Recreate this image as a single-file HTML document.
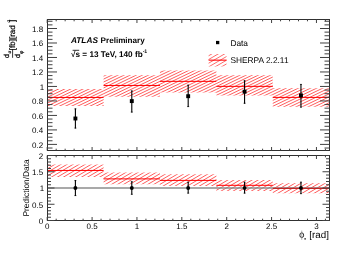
<!DOCTYPE html><html><head><meta charset="utf-8"><style>html,body{margin:0;padding:0;background:#fff;width:357px;height:256px;overflow:hidden}svg{display:block}text{font-family:"Liberation Sans",sans-serif;text-rendering:geometricPrecision}</style></head><body>
<div style="will-change:transform;width:357px;height:256px"><svg width="357" height="256" viewBox="0 0 357 256">
<defs>
<clipPath id="ct"><rect x="47.5" y="19.5" width="282" height="131"/></clipPath>
<clipPath id="cb"><rect x="47.5" y="155.5" width="282" height="65"/></clipPath></defs>
<rect width="357" height="256" fill="#fff"/>
<g clip-path="url(#ct)">
<clipPath id="hc1"><rect x="47.20" y="89.00" width="56.39" height="17.00"/></clipPath><g clip-path="url(#hc1)" stroke="#ff0000" stroke-width="0.7" stroke-opacity="0.92"><line x1="46.20" y1="89.06" x2="104.59" y2="61.04"/><line x1="46.20" y1="91.99" x2="104.59" y2="63.97"/><line x1="46.20" y1="94.92" x2="104.59" y2="66.90"/><line x1="46.20" y1="97.85" x2="104.59" y2="69.83"/><line x1="46.20" y1="100.78" x2="104.59" y2="72.76"/><line x1="46.20" y1="103.71" x2="104.59" y2="75.69"/><line x1="46.20" y1="106.64" x2="104.59" y2="78.62"/><line x1="46.20" y1="109.57" x2="104.59" y2="81.55"/><line x1="46.20" y1="112.50" x2="104.59" y2="84.48"/><line x1="46.20" y1="115.43" x2="104.59" y2="87.41"/><line x1="46.20" y1="118.36" x2="104.59" y2="90.34"/><line x1="46.20" y1="121.29" x2="104.59" y2="93.27"/><line x1="46.20" y1="124.22" x2="104.59" y2="96.20"/><line x1="46.20" y1="127.15" x2="104.59" y2="99.13"/><line x1="46.20" y1="130.08" x2="104.59" y2="102.06"/><line x1="46.20" y1="133.01" x2="104.59" y2="104.99"/><line x1="46.20" y1="135.94" x2="104.59" y2="107.92"/></g>
<clipPath id="hc2"><rect x="103.59" y="75.20" width="56.39" height="21.60"/></clipPath><g clip-path="url(#hc2)" stroke="#ff0000" stroke-width="0.7" stroke-opacity="0.92"><line x1="102.59" y1="73.72" x2="160.98" y2="45.69"/><line x1="102.59" y1="76.65" x2="160.98" y2="48.62"/><line x1="102.59" y1="79.58" x2="160.98" y2="51.55"/><line x1="102.59" y1="82.51" x2="160.98" y2="54.48"/><line x1="102.59" y1="85.44" x2="160.98" y2="57.41"/><line x1="102.59" y1="88.37" x2="160.98" y2="60.34"/><line x1="102.59" y1="91.30" x2="160.98" y2="63.27"/><line x1="102.59" y1="94.23" x2="160.98" y2="66.20"/><line x1="102.59" y1="97.16" x2="160.98" y2="69.13"/><line x1="102.59" y1="100.09" x2="160.98" y2="72.06"/><line x1="102.59" y1="103.02" x2="160.98" y2="74.99"/><line x1="102.59" y1="105.95" x2="160.98" y2="77.92"/><line x1="102.59" y1="108.88" x2="160.98" y2="80.85"/><line x1="102.59" y1="111.81" x2="160.98" y2="83.78"/><line x1="102.59" y1="114.74" x2="160.98" y2="86.71"/><line x1="102.59" y1="117.67" x2="160.98" y2="89.64"/><line x1="102.59" y1="120.60" x2="160.98" y2="92.57"/><line x1="102.59" y1="123.53" x2="160.98" y2="95.50"/><line x1="102.59" y1="126.46" x2="160.98" y2="98.43"/></g>
<clipPath id="hc3"><rect x="159.98" y="70.40" width="56.39" height="22.20"/></clipPath><g clip-path="url(#hc3)" stroke="#ff0000" stroke-width="0.7" stroke-opacity="0.92"><line x1="158.98" y1="70.09" x2="217.37" y2="42.06"/><line x1="158.98" y1="73.02" x2="217.37" y2="44.99"/><line x1="158.98" y1="75.95" x2="217.37" y2="47.92"/><line x1="158.98" y1="78.88" x2="217.37" y2="50.85"/><line x1="158.98" y1="81.81" x2="217.37" y2="53.78"/><line x1="158.98" y1="84.74" x2="217.37" y2="56.71"/><line x1="158.98" y1="87.67" x2="217.37" y2="59.64"/><line x1="158.98" y1="90.60" x2="217.37" y2="62.57"/><line x1="158.98" y1="93.53" x2="217.37" y2="65.50"/><line x1="158.98" y1="96.46" x2="217.37" y2="68.43"/><line x1="158.98" y1="99.39" x2="217.37" y2="71.36"/><line x1="158.98" y1="102.32" x2="217.37" y2="74.29"/><line x1="158.98" y1="105.25" x2="217.37" y2="77.22"/><line x1="158.98" y1="108.18" x2="217.37" y2="80.15"/><line x1="158.98" y1="111.11" x2="217.37" y2="83.08"/><line x1="158.98" y1="114.04" x2="217.37" y2="86.01"/><line x1="158.98" y1="116.97" x2="217.37" y2="88.94"/><line x1="158.98" y1="119.90" x2="217.37" y2="91.87"/><line x1="158.98" y1="122.83" x2="217.37" y2="94.80"/></g>
<clipPath id="hc4"><rect x="216.37" y="75.20" width="56.39" height="20.30"/></clipPath><g clip-path="url(#hc4)" stroke="#ff0000" stroke-width="0.7" stroke-opacity="0.92"><line x1="215.37" y1="75.25" x2="273.77" y2="47.22"/><line x1="215.37" y1="78.18" x2="273.77" y2="50.15"/><line x1="215.37" y1="81.11" x2="273.77" y2="53.08"/><line x1="215.37" y1="84.04" x2="273.77" y2="56.01"/><line x1="215.37" y1="86.97" x2="273.77" y2="58.94"/><line x1="215.37" y1="89.90" x2="273.77" y2="61.87"/><line x1="215.37" y1="92.83" x2="273.77" y2="64.80"/><line x1="215.37" y1="95.76" x2="273.77" y2="67.73"/><line x1="215.37" y1="98.69" x2="273.77" y2="70.66"/><line x1="215.37" y1="101.62" x2="273.77" y2="73.59"/><line x1="215.37" y1="104.55" x2="273.77" y2="76.52"/><line x1="215.37" y1="107.48" x2="273.77" y2="79.45"/><line x1="215.37" y1="110.41" x2="273.77" y2="82.38"/><line x1="215.37" y1="113.34" x2="273.77" y2="85.31"/><line x1="215.37" y1="116.27" x2="273.77" y2="88.24"/><line x1="215.37" y1="119.20" x2="273.77" y2="91.17"/><line x1="215.37" y1="122.13" x2="273.77" y2="94.10"/><line x1="215.37" y1="125.06" x2="273.77" y2="97.03"/></g>
<clipPath id="hc5"><rect x="272.77" y="88.30" width="56.39" height="18.50"/></clipPath><g clip-path="url(#hc5)" stroke="#ff0000" stroke-width="0.7" stroke-opacity="0.92"><line x1="271.77" y1="86.27" x2="330.16" y2="58.24"/><line x1="271.77" y1="89.20" x2="330.16" y2="61.17"/><line x1="271.77" y1="92.13" x2="330.16" y2="64.10"/><line x1="271.77" y1="95.06" x2="330.16" y2="67.03"/><line x1="271.77" y1="97.99" x2="330.16" y2="69.96"/><line x1="271.77" y1="100.92" x2="330.16" y2="72.89"/><line x1="271.77" y1="103.85" x2="330.16" y2="75.82"/><line x1="271.77" y1="106.78" x2="330.16" y2="78.75"/><line x1="271.77" y1="109.71" x2="330.16" y2="81.68"/><line x1="271.77" y1="112.64" x2="330.16" y2="84.61"/><line x1="271.77" y1="115.57" x2="330.16" y2="87.54"/><line x1="271.77" y1="118.50" x2="330.16" y2="90.47"/><line x1="271.77" y1="121.43" x2="330.16" y2="93.40"/><line x1="271.77" y1="124.36" x2="330.16" y2="96.33"/><line x1="271.77" y1="127.29" x2="330.16" y2="99.26"/><line x1="271.77" y1="130.22" x2="330.16" y2="102.19"/><line x1="271.77" y1="133.15" x2="330.16" y2="105.12"/><line x1="271.77" y1="136.08" x2="330.16" y2="108.05"/></g>
<line x1="47.20" y1="97.45" x2="103.59" y2="97.45" stroke="#ff0000" stroke-width="1.0"/>
<line x1="103.59" y1="85.45" x2="159.98" y2="85.45" stroke="#ff0000" stroke-width="1.0"/>
<line x1="159.98" y1="81.35" x2="216.37" y2="81.35" stroke="#ff0000" stroke-width="1.0"/>
<line x1="216.37" y1="86.35" x2="272.77" y2="86.35" stroke="#ff0000" stroke-width="1.0"/>
<line x1="272.77" y1="97.40" x2="329.16" y2="97.40" stroke="#ff0000" stroke-width="1.0"/>
</g>
<g clip-path="url(#cb)">
<clipPath id="hc6"><rect x="47.20" y="164.60" width="56.39" height="12.30"/></clipPath><g clip-path="url(#hc6)" stroke="#ff0000" stroke-width="0.7" stroke-opacity="0.92"><line x1="46.20" y1="162.38" x2="104.59" y2="128.10"/><line x1="46.20" y1="165.93" x2="104.59" y2="131.65"/><line x1="46.20" y1="169.48" x2="104.59" y2="135.20"/><line x1="46.20" y1="173.03" x2="104.59" y2="138.75"/><line x1="46.20" y1="176.58" x2="104.59" y2="142.30"/><line x1="46.20" y1="180.13" x2="104.59" y2="145.85"/><line x1="46.20" y1="183.68" x2="104.59" y2="149.40"/><line x1="46.20" y1="187.23" x2="104.59" y2="152.95"/><line x1="46.20" y1="190.78" x2="104.59" y2="156.50"/><line x1="46.20" y1="194.33" x2="104.59" y2="160.05"/><line x1="46.20" y1="197.88" x2="104.59" y2="163.60"/><line x1="46.20" y1="201.43" x2="104.59" y2="167.15"/><line x1="46.20" y1="204.98" x2="104.59" y2="170.70"/><line x1="46.20" y1="208.53" x2="104.59" y2="174.25"/><line x1="46.20" y1="212.08" x2="104.59" y2="177.80"/></g>
<clipPath id="hc7"><rect x="103.59" y="172.60" width="56.39" height="11.60"/></clipPath><g clip-path="url(#hc7)" stroke="#ff0000" stroke-width="0.7" stroke-opacity="0.92"><line x1="102.59" y1="171.88" x2="160.98" y2="137.60"/><line x1="102.59" y1="175.43" x2="160.98" y2="141.15"/><line x1="102.59" y1="178.98" x2="160.98" y2="144.70"/><line x1="102.59" y1="182.53" x2="160.98" y2="148.25"/><line x1="102.59" y1="186.08" x2="160.98" y2="151.80"/><line x1="102.59" y1="189.63" x2="160.98" y2="155.35"/><line x1="102.59" y1="193.18" x2="160.98" y2="158.90"/><line x1="102.59" y1="196.73" x2="160.98" y2="162.45"/><line x1="102.59" y1="200.28" x2="160.98" y2="166.00"/><line x1="102.59" y1="203.83" x2="160.98" y2="169.55"/><line x1="102.59" y1="207.38" x2="160.98" y2="173.10"/><line x1="102.59" y1="210.93" x2="160.98" y2="176.65"/><line x1="102.59" y1="214.48" x2="160.98" y2="180.20"/><line x1="102.59" y1="218.03" x2="160.98" y2="183.75"/></g>
<clipPath id="hc8"><rect x="159.98" y="174.20" width="56.39" height="11.80"/></clipPath><g clip-path="url(#hc8)" stroke="#ff0000" stroke-width="0.7" stroke-opacity="0.92"><line x1="158.98" y1="174.28" x2="217.37" y2="140.00"/><line x1="158.98" y1="177.83" x2="217.37" y2="143.55"/><line x1="158.98" y1="181.38" x2="217.37" y2="147.10"/><line x1="158.98" y1="184.93" x2="217.37" y2="150.65"/><line x1="158.98" y1="188.48" x2="217.37" y2="154.20"/><line x1="158.98" y1="192.03" x2="217.37" y2="157.75"/><line x1="158.98" y1="195.58" x2="217.37" y2="161.30"/><line x1="158.98" y1="199.13" x2="217.37" y2="164.85"/><line x1="158.98" y1="202.68" x2="217.37" y2="168.40"/><line x1="158.98" y1="206.23" x2="217.37" y2="171.95"/><line x1="158.98" y1="209.78" x2="217.37" y2="175.50"/><line x1="158.98" y1="213.33" x2="217.37" y2="179.05"/><line x1="158.98" y1="216.88" x2="217.37" y2="182.60"/><line x1="158.98" y1="220.43" x2="217.37" y2="186.15"/></g>
<clipPath id="hc9"><rect x="216.37" y="180.10" width="56.39" height="10.90"/></clipPath><g clip-path="url(#hc9)" stroke="#ff0000" stroke-width="0.7" stroke-opacity="0.92"><line x1="215.37" y1="180.23" x2="273.77" y2="145.95"/><line x1="215.37" y1="183.78" x2="273.77" y2="149.50"/><line x1="215.37" y1="187.33" x2="273.77" y2="153.05"/><line x1="215.37" y1="190.88" x2="273.77" y2="156.60"/><line x1="215.37" y1="194.43" x2="273.77" y2="160.15"/><line x1="215.37" y1="197.98" x2="273.77" y2="163.70"/><line x1="215.37" y1="201.53" x2="273.77" y2="167.25"/><line x1="215.37" y1="205.08" x2="273.77" y2="170.80"/><line x1="215.37" y1="208.63" x2="273.77" y2="174.35"/><line x1="215.37" y1="212.18" x2="273.77" y2="177.90"/><line x1="215.37" y1="215.73" x2="273.77" y2="181.45"/><line x1="215.37" y1="219.28" x2="273.77" y2="185.00"/><line x1="215.37" y1="222.83" x2="273.77" y2="188.55"/><line x1="215.37" y1="226.38" x2="273.77" y2="192.10"/></g>
<clipPath id="hc10"><rect x="272.77" y="183.20" width="56.39" height="10.00"/></clipPath><g clip-path="url(#hc10)" stroke="#ff0000" stroke-width="0.7" stroke-opacity="0.92"><line x1="271.77" y1="182.62" x2="330.16" y2="148.35"/><line x1="271.77" y1="186.17" x2="330.16" y2="151.90"/><line x1="271.77" y1="189.72" x2="330.16" y2="155.45"/><line x1="271.77" y1="193.27" x2="330.16" y2="159.00"/><line x1="271.77" y1="196.82" x2="330.16" y2="162.55"/><line x1="271.77" y1="200.37" x2="330.16" y2="166.10"/><line x1="271.77" y1="203.92" x2="330.16" y2="169.65"/><line x1="271.77" y1="207.47" x2="330.16" y2="173.20"/><line x1="271.77" y1="211.02" x2="330.16" y2="176.75"/><line x1="271.77" y1="214.57" x2="330.16" y2="180.30"/><line x1="271.77" y1="218.12" x2="330.16" y2="183.85"/><line x1="271.77" y1="221.67" x2="330.16" y2="187.40"/><line x1="271.77" y1="225.22" x2="330.16" y2="190.95"/><line x1="271.77" y1="228.77" x2="330.16" y2="194.50"/></g>
<line x1="47.5" y1="188" x2="329.5" y2="188" stroke="#8c8c8c" stroke-width="1.6"/>
<line x1="47.20" y1="170.45" x2="103.59" y2="170.45" stroke="#ff0000" stroke-width="1.0"/>
<line x1="103.59" y1="178.90" x2="159.98" y2="178.90" stroke="#ff0000" stroke-width="1.0"/>
<line x1="159.98" y1="180.40" x2="216.37" y2="180.40" stroke="#ff0000" stroke-width="1.0"/>
<line x1="216.37" y1="185.30" x2="272.77" y2="185.30" stroke="#ff0000" stroke-width="1.0"/>
<line x1="272.77" y1="188.30" x2="329.16" y2="188.30" stroke="#c80808" stroke-width="1.0"/>
</g>
<line x1="75.40" y1="108.4" x2="75.40" y2="128.5" stroke="#000" stroke-width="1.1"/>
<rect x="73.45" y="116.55" width="3.9" height="3.9" fill="#000"/>
<rect x="74.40" y="108.30" width="2.0" height="1.1" fill="#000" opacity="0.6"/>
<rect x="74.40" y="127.50" width="2.0" height="1.1" fill="#000" opacity="0.6"/>
<line x1="131.79" y1="90.5" x2="131.79" y2="112.5" stroke="#000" stroke-width="1.1"/>
<rect x="129.84" y="99.15" width="3.9" height="3.9" fill="#000"/>
<rect x="130.79" y="90.40" width="2.0" height="1.1" fill="#000" opacity="0.6"/>
<rect x="130.79" y="111.50" width="2.0" height="1.1" fill="#000" opacity="0.6"/>
<line x1="188.18" y1="84.8" x2="188.18" y2="107.0" stroke="#000" stroke-width="1.1"/>
<rect x="186.23" y="94.25" width="3.9" height="3.9" fill="#000"/>
<rect x="187.18" y="84.70" width="2.0" height="1.1" fill="#000" opacity="0.6"/>
<rect x="187.18" y="106.00" width="2.0" height="1.1" fill="#000" opacity="0.6"/>
<line x1="244.57" y1="80.3" x2="244.57" y2="103.7" stroke="#000" stroke-width="1.1"/>
<rect x="242.62" y="89.75" width="3.9" height="3.9" fill="#000"/>
<rect x="243.57" y="80.20" width="2.0" height="1.1" fill="#000" opacity="0.6"/>
<rect x="243.57" y="102.70" width="2.0" height="1.1" fill="#000" opacity="0.6"/>
<line x1="300.96" y1="84.0" x2="300.96" y2="107.6" stroke="#000" stroke-width="1.1"/>
<rect x="299.01" y="93.45" width="3.9" height="3.9" fill="#000"/>
<rect x="299.96" y="83.90" width="2.0" height="1.1" fill="#000" opacity="0.6"/>
<rect x="299.96" y="106.60" width="2.0" height="1.1" fill="#000" opacity="0.6"/>
<line x1="75.40" y1="180.1" x2="75.40" y2="196.0" stroke="#000" stroke-width="1.1"/>
<circle cx="75.40" cy="188" r="1.95" fill="#000"/>
<rect x="74.40" y="180.00" width="2.0" height="1.1" fill="#000" opacity="0.6"/>
<rect x="74.40" y="195.00" width="2.0" height="1.1" fill="#000" opacity="0.6"/>
<line x1="131.79" y1="181.3" x2="131.79" y2="194.7" stroke="#000" stroke-width="1.1"/>
<circle cx="131.79" cy="188" r="1.95" fill="#000"/>
<rect x="130.79" y="181.20" width="2.0" height="1.1" fill="#000" opacity="0.6"/>
<rect x="130.79" y="193.70" width="2.0" height="1.1" fill="#000" opacity="0.6"/>
<line x1="188.18" y1="181.8" x2="188.18" y2="193.6" stroke="#000" stroke-width="1.1"/>
<circle cx="188.18" cy="188" r="1.95" fill="#000"/>
<rect x="187.18" y="181.70" width="2.0" height="1.1" fill="#000" opacity="0.6"/>
<rect x="187.18" y="192.60" width="2.0" height="1.1" fill="#000" opacity="0.6"/>
<line x1="244.57" y1="181.8" x2="244.57" y2="193.6" stroke="#000" stroke-width="1.1"/>
<circle cx="244.57" cy="188" r="1.95" fill="#000"/>
<rect x="243.57" y="181.70" width="2.0" height="1.1" fill="#000" opacity="0.6"/>
<rect x="243.57" y="192.60" width="2.0" height="1.1" fill="#000" opacity="0.6"/>
<line x1="300.96" y1="181.8" x2="300.96" y2="194.1" stroke="#000" stroke-width="1.1"/>
<circle cx="300.96" cy="188" r="1.95" fill="#000"/>
<rect x="299.96" y="181.70" width="2.0" height="1.1" fill="#000" opacity="0.6"/>
<rect x="299.96" y="193.10" width="2.0" height="1.1" fill="#000" opacity="0.6"/>
<g><rect x="47.5" y="19.5" width="282" height="131" fill="none" stroke="#303030" stroke-width="1"/><rect x="47.5" y="155.5" width="282" height="65" fill="none" stroke="#303030" stroke-width="1"/><line x1="47.50" y1="148.02" x2="52.50" y2="148.02" stroke="#404040" stroke-width="1"/><line x1="329.50" y1="148.02" x2="324.50" y2="148.02" stroke="#404040" stroke-width="1"/><line x1="47.50" y1="144.40" x2="57.00" y2="144.40" stroke="#404040" stroke-width="1"/><line x1="329.50" y1="144.40" x2="320.00" y2="144.40" stroke="#404040" stroke-width="1"/><line x1="47.50" y1="140.78" x2="52.50" y2="140.78" stroke="#404040" stroke-width="1"/><line x1="329.50" y1="140.78" x2="324.50" y2="140.78" stroke="#404040" stroke-width="1"/><line x1="47.50" y1="137.16" x2="52.50" y2="137.16" stroke="#404040" stroke-width="1"/><line x1="329.50" y1="137.16" x2="324.50" y2="137.16" stroke="#404040" stroke-width="1"/><line x1="47.50" y1="133.54" x2="52.50" y2="133.54" stroke="#404040" stroke-width="1"/><line x1="329.50" y1="133.54" x2="324.50" y2="133.54" stroke="#404040" stroke-width="1"/><line x1="47.50" y1="129.91" x2="57.00" y2="129.91" stroke="#404040" stroke-width="1"/><line x1="329.50" y1="129.91" x2="320.00" y2="129.91" stroke="#404040" stroke-width="1"/><line x1="47.50" y1="126.29" x2="52.50" y2="126.29" stroke="#404040" stroke-width="1"/><line x1="329.50" y1="126.29" x2="324.50" y2="126.29" stroke="#404040" stroke-width="1"/><line x1="47.50" y1="122.67" x2="52.50" y2="122.67" stroke="#404040" stroke-width="1"/><line x1="329.50" y1="122.67" x2="324.50" y2="122.67" stroke="#404040" stroke-width="1"/><line x1="47.50" y1="119.05" x2="52.50" y2="119.05" stroke="#404040" stroke-width="1"/><line x1="329.50" y1="119.05" x2="324.50" y2="119.05" stroke="#404040" stroke-width="1"/><line x1="47.50" y1="115.43" x2="57.00" y2="115.43" stroke="#404040" stroke-width="1"/><line x1="329.50" y1="115.43" x2="320.00" y2="115.43" stroke="#404040" stroke-width="1"/><line x1="47.50" y1="111.80" x2="52.50" y2="111.80" stroke="#404040" stroke-width="1"/><line x1="329.50" y1="111.80" x2="324.50" y2="111.80" stroke="#404040" stroke-width="1"/><line x1="47.50" y1="108.18" x2="52.50" y2="108.18" stroke="#404040" stroke-width="1"/><line x1="329.50" y1="108.18" x2="324.50" y2="108.18" stroke="#404040" stroke-width="1"/><line x1="47.50" y1="104.56" x2="52.50" y2="104.56" stroke="#404040" stroke-width="1"/><line x1="329.50" y1="104.56" x2="324.50" y2="104.56" stroke="#404040" stroke-width="1"/><line x1="47.50" y1="100.94" x2="57.00" y2="100.94" stroke="#404040" stroke-width="1"/><line x1="329.50" y1="100.94" x2="320.00" y2="100.94" stroke="#404040" stroke-width="1"/><line x1="47.50" y1="97.32" x2="52.50" y2="97.32" stroke="#404040" stroke-width="1"/><line x1="329.50" y1="97.32" x2="324.50" y2="97.32" stroke="#404040" stroke-width="1"/><line x1="47.50" y1="93.69" x2="52.50" y2="93.69" stroke="#404040" stroke-width="1"/><line x1="329.50" y1="93.69" x2="324.50" y2="93.69" stroke="#404040" stroke-width="1"/><line x1="47.50" y1="90.07" x2="52.50" y2="90.07" stroke="#404040" stroke-width="1"/><line x1="329.50" y1="90.07" x2="324.50" y2="90.07" stroke="#404040" stroke-width="1"/><line x1="47.50" y1="86.45" x2="57.00" y2="86.45" stroke="#404040" stroke-width="1"/><line x1="329.50" y1="86.45" x2="320.00" y2="86.45" stroke="#404040" stroke-width="1"/><line x1="47.50" y1="82.83" x2="52.50" y2="82.83" stroke="#404040" stroke-width="1"/><line x1="329.50" y1="82.83" x2="324.50" y2="82.83" stroke="#404040" stroke-width="1"/><line x1="47.50" y1="79.21" x2="52.50" y2="79.21" stroke="#404040" stroke-width="1"/><line x1="329.50" y1="79.21" x2="324.50" y2="79.21" stroke="#404040" stroke-width="1"/><line x1="47.50" y1="75.58" x2="52.50" y2="75.58" stroke="#404040" stroke-width="1"/><line x1="329.50" y1="75.58" x2="324.50" y2="75.58" stroke="#404040" stroke-width="1"/><line x1="47.50" y1="71.96" x2="57.00" y2="71.96" stroke="#404040" stroke-width="1"/><line x1="329.50" y1="71.96" x2="320.00" y2="71.96" stroke="#404040" stroke-width="1"/><line x1="47.50" y1="68.34" x2="52.50" y2="68.34" stroke="#404040" stroke-width="1"/><line x1="329.50" y1="68.34" x2="324.50" y2="68.34" stroke="#404040" stroke-width="1"/><line x1="47.50" y1="64.72" x2="52.50" y2="64.72" stroke="#404040" stroke-width="1"/><line x1="329.50" y1="64.72" x2="324.50" y2="64.72" stroke="#404040" stroke-width="1"/><line x1="47.50" y1="61.10" x2="52.50" y2="61.10" stroke="#404040" stroke-width="1"/><line x1="329.50" y1="61.10" x2="324.50" y2="61.10" stroke="#404040" stroke-width="1"/><line x1="47.50" y1="57.47" x2="57.00" y2="57.47" stroke="#404040" stroke-width="1"/><line x1="329.50" y1="57.47" x2="320.00" y2="57.47" stroke="#404040" stroke-width="1"/><line x1="47.50" y1="53.85" x2="52.50" y2="53.85" stroke="#404040" stroke-width="1"/><line x1="329.50" y1="53.85" x2="324.50" y2="53.85" stroke="#404040" stroke-width="1"/><line x1="47.50" y1="50.23" x2="52.50" y2="50.23" stroke="#404040" stroke-width="1"/><line x1="329.50" y1="50.23" x2="324.50" y2="50.23" stroke="#404040" stroke-width="1"/><line x1="47.50" y1="46.61" x2="52.50" y2="46.61" stroke="#404040" stroke-width="1"/><line x1="329.50" y1="46.61" x2="324.50" y2="46.61" stroke="#404040" stroke-width="1"/><line x1="47.50" y1="42.99" x2="57.00" y2="42.99" stroke="#404040" stroke-width="1"/><line x1="329.50" y1="42.99" x2="320.00" y2="42.99" stroke="#404040" stroke-width="1"/><line x1="47.50" y1="39.36" x2="52.50" y2="39.36" stroke="#404040" stroke-width="1"/><line x1="329.50" y1="39.36" x2="324.50" y2="39.36" stroke="#404040" stroke-width="1"/><line x1="47.50" y1="35.74" x2="52.50" y2="35.74" stroke="#404040" stroke-width="1"/><line x1="329.50" y1="35.74" x2="324.50" y2="35.74" stroke="#404040" stroke-width="1"/><line x1="47.50" y1="32.12" x2="52.50" y2="32.12" stroke="#404040" stroke-width="1"/><line x1="329.50" y1="32.12" x2="324.50" y2="32.12" stroke="#404040" stroke-width="1"/><line x1="47.50" y1="28.50" x2="57.00" y2="28.50" stroke="#404040" stroke-width="1"/><line x1="329.50" y1="28.50" x2="320.00" y2="28.50" stroke="#404040" stroke-width="1"/><line x1="47.50" y1="24.88" x2="52.50" y2="24.88" stroke="#404040" stroke-width="1"/><line x1="329.50" y1="24.88" x2="324.50" y2="24.88" stroke="#404040" stroke-width="1"/><line x1="47.50" y1="21.25" x2="52.50" y2="21.25" stroke="#404040" stroke-width="1"/><line x1="329.50" y1="21.25" x2="324.50" y2="21.25" stroke="#404040" stroke-width="1"/><line x1="47.50" y1="220.50" x2="54.50" y2="220.50" stroke="#404040" stroke-width="1"/><line x1="329.50" y1="220.50" x2="322.50" y2="220.50" stroke="#404040" stroke-width="1"/><line x1="47.50" y1="217.25" x2="51.00" y2="217.25" stroke="#404040" stroke-width="1"/><line x1="329.50" y1="217.25" x2="326.00" y2="217.25" stroke="#404040" stroke-width="1"/><line x1="47.50" y1="214.00" x2="51.00" y2="214.00" stroke="#404040" stroke-width="1"/><line x1="329.50" y1="214.00" x2="326.00" y2="214.00" stroke="#404040" stroke-width="1"/><line x1="47.50" y1="210.75" x2="51.00" y2="210.75" stroke="#404040" stroke-width="1"/><line x1="329.50" y1="210.75" x2="326.00" y2="210.75" stroke="#404040" stroke-width="1"/><line x1="47.50" y1="207.50" x2="51.00" y2="207.50" stroke="#404040" stroke-width="1"/><line x1="329.50" y1="207.50" x2="326.00" y2="207.50" stroke="#404040" stroke-width="1"/><line x1="47.50" y1="204.25" x2="54.50" y2="204.25" stroke="#404040" stroke-width="1"/><line x1="329.50" y1="204.25" x2="322.50" y2="204.25" stroke="#404040" stroke-width="1"/><line x1="47.50" y1="201.00" x2="51.00" y2="201.00" stroke="#404040" stroke-width="1"/><line x1="329.50" y1="201.00" x2="326.00" y2="201.00" stroke="#404040" stroke-width="1"/><line x1="47.50" y1="197.75" x2="51.00" y2="197.75" stroke="#404040" stroke-width="1"/><line x1="329.50" y1="197.75" x2="326.00" y2="197.75" stroke="#404040" stroke-width="1"/><line x1="47.50" y1="194.50" x2="51.00" y2="194.50" stroke="#404040" stroke-width="1"/><line x1="329.50" y1="194.50" x2="326.00" y2="194.50" stroke="#404040" stroke-width="1"/><line x1="47.50" y1="191.25" x2="51.00" y2="191.25" stroke="#404040" stroke-width="1"/><line x1="329.50" y1="191.25" x2="326.00" y2="191.25" stroke="#404040" stroke-width="1"/><line x1="47.50" y1="188.00" x2="54.50" y2="188.00" stroke="#404040" stroke-width="1"/><line x1="329.50" y1="188.00" x2="322.50" y2="188.00" stroke="#404040" stroke-width="1"/><line x1="47.50" y1="184.75" x2="51.00" y2="184.75" stroke="#404040" stroke-width="1"/><line x1="329.50" y1="184.75" x2="326.00" y2="184.75" stroke="#404040" stroke-width="1"/><line x1="47.50" y1="181.50" x2="51.00" y2="181.50" stroke="#404040" stroke-width="1"/><line x1="329.50" y1="181.50" x2="326.00" y2="181.50" stroke="#404040" stroke-width="1"/><line x1="47.50" y1="178.25" x2="51.00" y2="178.25" stroke="#404040" stroke-width="1"/><line x1="329.50" y1="178.25" x2="326.00" y2="178.25" stroke="#404040" stroke-width="1"/><line x1="47.50" y1="175.00" x2="51.00" y2="175.00" stroke="#404040" stroke-width="1"/><line x1="329.50" y1="175.00" x2="326.00" y2="175.00" stroke="#404040" stroke-width="1"/><line x1="47.50" y1="171.75" x2="54.50" y2="171.75" stroke="#404040" stroke-width="1"/><line x1="329.50" y1="171.75" x2="322.50" y2="171.75" stroke="#404040" stroke-width="1"/><line x1="47.50" y1="168.50" x2="51.00" y2="168.50" stroke="#404040" stroke-width="1"/><line x1="329.50" y1="168.50" x2="326.00" y2="168.50" stroke="#404040" stroke-width="1"/><line x1="47.50" y1="165.25" x2="51.00" y2="165.25" stroke="#404040" stroke-width="1"/><line x1="329.50" y1="165.25" x2="326.00" y2="165.25" stroke="#404040" stroke-width="1"/><line x1="47.50" y1="162.00" x2="51.00" y2="162.00" stroke="#404040" stroke-width="1"/><line x1="329.50" y1="162.00" x2="326.00" y2="162.00" stroke="#404040" stroke-width="1"/><line x1="47.50" y1="158.75" x2="51.00" y2="158.75" stroke="#404040" stroke-width="1"/><line x1="329.50" y1="158.75" x2="326.00" y2="158.75" stroke="#404040" stroke-width="1"/><line x1="47.50" y1="155.50" x2="54.50" y2="155.50" stroke="#404040" stroke-width="1"/><line x1="329.50" y1="155.50" x2="322.50" y2="155.50" stroke="#404040" stroke-width="1"/><line x1="47.20" y1="150.50" x2="47.20" y2="147.00" stroke="#404040" stroke-width="1"/><line x1="47.20" y1="19.50" x2="47.20" y2="23.00" stroke="#404040" stroke-width="1"/><line x1="47.20" y1="220.50" x2="47.20" y2="217.00" stroke="#404040" stroke-width="1"/><line x1="47.20" y1="155.50" x2="47.20" y2="159.00" stroke="#404040" stroke-width="1"/><line x1="56.18" y1="150.50" x2="56.18" y2="148.70" stroke="#404040" stroke-width="1"/><line x1="56.18" y1="19.50" x2="56.18" y2="21.30" stroke="#404040" stroke-width="1"/><line x1="56.18" y1="220.50" x2="56.18" y2="218.70" stroke="#404040" stroke-width="1"/><line x1="56.18" y1="155.50" x2="56.18" y2="157.30" stroke="#404040" stroke-width="1"/><line x1="65.15" y1="150.50" x2="65.15" y2="148.70" stroke="#404040" stroke-width="1"/><line x1="65.15" y1="19.50" x2="65.15" y2="21.30" stroke="#404040" stroke-width="1"/><line x1="65.15" y1="220.50" x2="65.15" y2="218.70" stroke="#404040" stroke-width="1"/><line x1="65.15" y1="155.50" x2="65.15" y2="157.30" stroke="#404040" stroke-width="1"/><line x1="74.12" y1="150.50" x2="74.12" y2="148.70" stroke="#404040" stroke-width="1"/><line x1="74.12" y1="19.50" x2="74.12" y2="21.30" stroke="#404040" stroke-width="1"/><line x1="74.12" y1="220.50" x2="74.12" y2="218.70" stroke="#404040" stroke-width="1"/><line x1="74.12" y1="155.50" x2="74.12" y2="157.30" stroke="#404040" stroke-width="1"/><line x1="83.10" y1="150.50" x2="83.10" y2="148.70" stroke="#404040" stroke-width="1"/><line x1="83.10" y1="19.50" x2="83.10" y2="21.30" stroke="#404040" stroke-width="1"/><line x1="83.10" y1="220.50" x2="83.10" y2="218.70" stroke="#404040" stroke-width="1"/><line x1="83.10" y1="155.50" x2="83.10" y2="157.30" stroke="#404040" stroke-width="1"/><line x1="92.08" y1="150.50" x2="92.08" y2="147.00" stroke="#404040" stroke-width="1"/><line x1="92.08" y1="19.50" x2="92.08" y2="23.00" stroke="#404040" stroke-width="1"/><line x1="92.08" y1="220.50" x2="92.08" y2="217.00" stroke="#404040" stroke-width="1"/><line x1="92.08" y1="155.50" x2="92.08" y2="159.00" stroke="#404040" stroke-width="1"/><line x1="101.05" y1="150.50" x2="101.05" y2="148.70" stroke="#404040" stroke-width="1"/><line x1="101.05" y1="19.50" x2="101.05" y2="21.30" stroke="#404040" stroke-width="1"/><line x1="101.05" y1="220.50" x2="101.05" y2="218.70" stroke="#404040" stroke-width="1"/><line x1="101.05" y1="155.50" x2="101.05" y2="157.30" stroke="#404040" stroke-width="1"/><line x1="110.03" y1="150.50" x2="110.03" y2="148.70" stroke="#404040" stroke-width="1"/><line x1="110.03" y1="19.50" x2="110.03" y2="21.30" stroke="#404040" stroke-width="1"/><line x1="110.03" y1="220.50" x2="110.03" y2="218.70" stroke="#404040" stroke-width="1"/><line x1="110.03" y1="155.50" x2="110.03" y2="157.30" stroke="#404040" stroke-width="1"/><line x1="119.00" y1="150.50" x2="119.00" y2="148.70" stroke="#404040" stroke-width="1"/><line x1="119.00" y1="19.50" x2="119.00" y2="21.30" stroke="#404040" stroke-width="1"/><line x1="119.00" y1="220.50" x2="119.00" y2="218.70" stroke="#404040" stroke-width="1"/><line x1="119.00" y1="155.50" x2="119.00" y2="157.30" stroke="#404040" stroke-width="1"/><line x1="127.98" y1="150.50" x2="127.98" y2="148.70" stroke="#404040" stroke-width="1"/><line x1="127.98" y1="19.50" x2="127.98" y2="21.30" stroke="#404040" stroke-width="1"/><line x1="127.98" y1="220.50" x2="127.98" y2="218.70" stroke="#404040" stroke-width="1"/><line x1="127.98" y1="155.50" x2="127.98" y2="157.30" stroke="#404040" stroke-width="1"/><line x1="136.95" y1="150.50" x2="136.95" y2="147.00" stroke="#404040" stroke-width="1"/><line x1="136.95" y1="19.50" x2="136.95" y2="23.00" stroke="#404040" stroke-width="1"/><line x1="136.95" y1="220.50" x2="136.95" y2="217.00" stroke="#404040" stroke-width="1"/><line x1="136.95" y1="155.50" x2="136.95" y2="159.00" stroke="#404040" stroke-width="1"/><line x1="145.93" y1="150.50" x2="145.93" y2="148.70" stroke="#404040" stroke-width="1"/><line x1="145.93" y1="19.50" x2="145.93" y2="21.30" stroke="#404040" stroke-width="1"/><line x1="145.93" y1="220.50" x2="145.93" y2="218.70" stroke="#404040" stroke-width="1"/><line x1="145.93" y1="155.50" x2="145.93" y2="157.30" stroke="#404040" stroke-width="1"/><line x1="154.90" y1="150.50" x2="154.90" y2="148.70" stroke="#404040" stroke-width="1"/><line x1="154.90" y1="19.50" x2="154.90" y2="21.30" stroke="#404040" stroke-width="1"/><line x1="154.90" y1="220.50" x2="154.90" y2="218.70" stroke="#404040" stroke-width="1"/><line x1="154.90" y1="155.50" x2="154.90" y2="157.30" stroke="#404040" stroke-width="1"/><line x1="163.88" y1="150.50" x2="163.88" y2="148.70" stroke="#404040" stroke-width="1"/><line x1="163.88" y1="19.50" x2="163.88" y2="21.30" stroke="#404040" stroke-width="1"/><line x1="163.88" y1="220.50" x2="163.88" y2="218.70" stroke="#404040" stroke-width="1"/><line x1="163.88" y1="155.50" x2="163.88" y2="157.30" stroke="#404040" stroke-width="1"/><line x1="172.85" y1="150.50" x2="172.85" y2="148.70" stroke="#404040" stroke-width="1"/><line x1="172.85" y1="19.50" x2="172.85" y2="21.30" stroke="#404040" stroke-width="1"/><line x1="172.85" y1="220.50" x2="172.85" y2="218.70" stroke="#404040" stroke-width="1"/><line x1="172.85" y1="155.50" x2="172.85" y2="157.30" stroke="#404040" stroke-width="1"/><line x1="181.82" y1="150.50" x2="181.82" y2="147.00" stroke="#404040" stroke-width="1"/><line x1="181.82" y1="19.50" x2="181.82" y2="23.00" stroke="#404040" stroke-width="1"/><line x1="181.82" y1="220.50" x2="181.82" y2="217.00" stroke="#404040" stroke-width="1"/><line x1="181.82" y1="155.50" x2="181.82" y2="159.00" stroke="#404040" stroke-width="1"/><line x1="190.80" y1="150.50" x2="190.80" y2="148.70" stroke="#404040" stroke-width="1"/><line x1="190.80" y1="19.50" x2="190.80" y2="21.30" stroke="#404040" stroke-width="1"/><line x1="190.80" y1="220.50" x2="190.80" y2="218.70" stroke="#404040" stroke-width="1"/><line x1="190.80" y1="155.50" x2="190.80" y2="157.30" stroke="#404040" stroke-width="1"/><line x1="199.77" y1="150.50" x2="199.77" y2="148.70" stroke="#404040" stroke-width="1"/><line x1="199.77" y1="19.50" x2="199.77" y2="21.30" stroke="#404040" stroke-width="1"/><line x1="199.77" y1="220.50" x2="199.77" y2="218.70" stroke="#404040" stroke-width="1"/><line x1="199.77" y1="155.50" x2="199.77" y2="157.30" stroke="#404040" stroke-width="1"/><line x1="208.75" y1="150.50" x2="208.75" y2="148.70" stroke="#404040" stroke-width="1"/><line x1="208.75" y1="19.50" x2="208.75" y2="21.30" stroke="#404040" stroke-width="1"/><line x1="208.75" y1="220.50" x2="208.75" y2="218.70" stroke="#404040" stroke-width="1"/><line x1="208.75" y1="155.50" x2="208.75" y2="157.30" stroke="#404040" stroke-width="1"/><line x1="217.73" y1="150.50" x2="217.73" y2="148.70" stroke="#404040" stroke-width="1"/><line x1="217.73" y1="19.50" x2="217.73" y2="21.30" stroke="#404040" stroke-width="1"/><line x1="217.73" y1="220.50" x2="217.73" y2="218.70" stroke="#404040" stroke-width="1"/><line x1="217.73" y1="155.50" x2="217.73" y2="157.30" stroke="#404040" stroke-width="1"/><line x1="226.70" y1="150.50" x2="226.70" y2="147.00" stroke="#404040" stroke-width="1"/><line x1="226.70" y1="19.50" x2="226.70" y2="23.00" stroke="#404040" stroke-width="1"/><line x1="226.70" y1="220.50" x2="226.70" y2="217.00" stroke="#404040" stroke-width="1"/><line x1="226.70" y1="155.50" x2="226.70" y2="159.00" stroke="#404040" stroke-width="1"/><line x1="235.68" y1="150.50" x2="235.68" y2="148.70" stroke="#404040" stroke-width="1"/><line x1="235.68" y1="19.50" x2="235.68" y2="21.30" stroke="#404040" stroke-width="1"/><line x1="235.68" y1="220.50" x2="235.68" y2="218.70" stroke="#404040" stroke-width="1"/><line x1="235.68" y1="155.50" x2="235.68" y2="157.30" stroke="#404040" stroke-width="1"/><line x1="244.65" y1="150.50" x2="244.65" y2="148.70" stroke="#404040" stroke-width="1"/><line x1="244.65" y1="19.50" x2="244.65" y2="21.30" stroke="#404040" stroke-width="1"/><line x1="244.65" y1="220.50" x2="244.65" y2="218.70" stroke="#404040" stroke-width="1"/><line x1="244.65" y1="155.50" x2="244.65" y2="157.30" stroke="#404040" stroke-width="1"/><line x1="253.62" y1="150.50" x2="253.62" y2="148.70" stroke="#404040" stroke-width="1"/><line x1="253.62" y1="19.50" x2="253.62" y2="21.30" stroke="#404040" stroke-width="1"/><line x1="253.62" y1="220.50" x2="253.62" y2="218.70" stroke="#404040" stroke-width="1"/><line x1="253.62" y1="155.50" x2="253.62" y2="157.30" stroke="#404040" stroke-width="1"/><line x1="262.60" y1="150.50" x2="262.60" y2="148.70" stroke="#404040" stroke-width="1"/><line x1="262.60" y1="19.50" x2="262.60" y2="21.30" stroke="#404040" stroke-width="1"/><line x1="262.60" y1="220.50" x2="262.60" y2="218.70" stroke="#404040" stroke-width="1"/><line x1="262.60" y1="155.50" x2="262.60" y2="157.30" stroke="#404040" stroke-width="1"/><line x1="271.57" y1="150.50" x2="271.57" y2="147.00" stroke="#404040" stroke-width="1"/><line x1="271.57" y1="19.50" x2="271.57" y2="23.00" stroke="#404040" stroke-width="1"/><line x1="271.57" y1="220.50" x2="271.57" y2="217.00" stroke="#404040" stroke-width="1"/><line x1="271.57" y1="155.50" x2="271.57" y2="159.00" stroke="#404040" stroke-width="1"/><line x1="280.55" y1="150.50" x2="280.55" y2="148.70" stroke="#404040" stroke-width="1"/><line x1="280.55" y1="19.50" x2="280.55" y2="21.30" stroke="#404040" stroke-width="1"/><line x1="280.55" y1="220.50" x2="280.55" y2="218.70" stroke="#404040" stroke-width="1"/><line x1="280.55" y1="155.50" x2="280.55" y2="157.30" stroke="#404040" stroke-width="1"/><line x1="289.53" y1="150.50" x2="289.53" y2="148.70" stroke="#404040" stroke-width="1"/><line x1="289.53" y1="19.50" x2="289.53" y2="21.30" stroke="#404040" stroke-width="1"/><line x1="289.53" y1="220.50" x2="289.53" y2="218.70" stroke="#404040" stroke-width="1"/><line x1="289.53" y1="155.50" x2="289.53" y2="157.30" stroke="#404040" stroke-width="1"/><line x1="298.50" y1="150.50" x2="298.50" y2="148.70" stroke="#404040" stroke-width="1"/><line x1="298.50" y1="19.50" x2="298.50" y2="21.30" stroke="#404040" stroke-width="1"/><line x1="298.50" y1="220.50" x2="298.50" y2="218.70" stroke="#404040" stroke-width="1"/><line x1="298.50" y1="155.50" x2="298.50" y2="157.30" stroke="#404040" stroke-width="1"/><line x1="307.47" y1="150.50" x2="307.47" y2="148.70" stroke="#404040" stroke-width="1"/><line x1="307.47" y1="19.50" x2="307.47" y2="21.30" stroke="#404040" stroke-width="1"/><line x1="307.47" y1="220.50" x2="307.47" y2="218.70" stroke="#404040" stroke-width="1"/><line x1="307.47" y1="155.50" x2="307.47" y2="157.30" stroke="#404040" stroke-width="1"/><line x1="316.45" y1="150.50" x2="316.45" y2="147.00" stroke="#404040" stroke-width="1"/><line x1="316.45" y1="19.50" x2="316.45" y2="23.00" stroke="#404040" stroke-width="1"/><line x1="316.45" y1="220.50" x2="316.45" y2="217.00" stroke="#404040" stroke-width="1"/><line x1="316.45" y1="155.50" x2="316.45" y2="159.00" stroke="#404040" stroke-width="1"/><line x1="325.43" y1="150.50" x2="325.43" y2="148.70" stroke="#404040" stroke-width="1"/><line x1="325.43" y1="19.50" x2="325.43" y2="21.30" stroke="#404040" stroke-width="1"/><line x1="325.43" y1="220.50" x2="325.43" y2="218.70" stroke="#404040" stroke-width="1"/><line x1="325.43" y1="155.50" x2="325.43" y2="157.30" stroke="#404040" stroke-width="1"/></g>
<g><text x="43.2" y="31.80" font-size="8" text-anchor="end" font-weight="normal" font-style="normal">1.8</text><text x="43.2" y="46.29" font-size="8" text-anchor="end" font-weight="normal" font-style="normal">1.6</text><text x="43.2" y="60.77" font-size="8" text-anchor="end" font-weight="normal" font-style="normal">1.4</text><text x="43.2" y="75.26" font-size="8" text-anchor="end" font-weight="normal" font-style="normal">1.2</text><text x="44.3" y="89.75" font-size="8" text-anchor="end" font-weight="normal" font-style="normal">1</text><text x="43.2" y="104.24" font-size="8" text-anchor="end" font-weight="normal" font-style="normal">0.8</text><text x="43.2" y="118.73" font-size="8" text-anchor="end" font-weight="normal" font-style="normal">0.6</text><text x="43.2" y="133.21" font-size="8" text-anchor="end" font-weight="normal" font-style="normal">0.4</text><text x="43.2" y="147.70" font-size="8" text-anchor="end" font-weight="normal" font-style="normal">0.2</text><text x="43.2" y="158.80" font-size="8" text-anchor="end" font-weight="normal" font-style="normal">2</text><text x="43.2" y="175.05" font-size="8" text-anchor="end" font-weight="normal" font-style="normal">1.5</text><text x="44.3" y="191.30" font-size="8" text-anchor="end" font-weight="normal" font-style="normal">1</text><text x="43.2" y="207.55" font-size="8" text-anchor="end" font-weight="normal" font-style="normal">0.5</text><text x="43.2" y="223.80" font-size="8" text-anchor="end" font-weight="normal" font-style="normal">0</text><text x="47.20" y="228.6" font-size="8" text-anchor="middle" font-weight="normal" font-style="normal">0</text><text x="92.08" y="228.6" font-size="8" text-anchor="middle" font-weight="normal" font-style="normal">0.5</text><text x="136.95" y="228.6" font-size="8" text-anchor="middle" font-weight="normal" font-style="normal">1</text><text x="181.82" y="228.6" font-size="8" text-anchor="middle" font-weight="normal" font-style="normal">1.5</text><text x="226.70" y="228.6" font-size="8" text-anchor="middle" font-weight="normal" font-style="normal">2</text><text x="271.57" y="228.6" font-size="8" text-anchor="middle" font-weight="normal" font-style="normal">2.5</text><text x="316.45" y="228.6" font-size="8" text-anchor="middle" font-weight="normal" font-style="normal">3</text><text x="328.9" y="237.8" font-size="9.8" text-anchor="end">[rad]</text><ellipse cx="301.75" cy="235.2" rx="1.9" ry="2.35" fill="none" stroke="#222" stroke-width="0.95"/><line x1="301.75" y1="230.6" x2="301.75" y2="239.8" stroke="#888" stroke-width="0.7"/><circle cx="305.1" cy="238.8" r="0.85" fill="#333"/><text x="70.9" y="42.7" font-size="8.3" font-weight="bold" font-style="italic">ATLAS</text><text x="100.6" y="42.7" font-size="8.1" font-weight="bold">Preliminary</text><text x="71" y="56.6" font-size="8.2" font-weight="bold">√s = 13 TeV, 140 fb<tspan font-size="5.2" dy="-3.2">-1</tspan></text><text x="230.4" y="45.9" font-size="8.35">Data</text><text x="230.4" y="63.0" font-size="8.35">SHERPA 2.2.11</text><text transform="translate(29,216.5) rotate(-90)" font-size="8.4">Prediction/Data</text><g transform="rotate(-90)" stroke="#000" stroke-width="0.22"><text x="-57.9" y="9.1" font-size="7.2">d</text><text x="-53.6" y="10.6" font-size="4.2">σ</text><line x1="-57.8" y1="12.6" x2="-49.3" y2="12.6" stroke="#000" stroke-width="0.8"/><text x="-57.9" y="19.7" font-size="7.2">d</text><text x="-53.9" y="23.2" font-size="5">φ</text><text x="-50.2" y="15.1" font-size="8.0">[fb][rad</text><text x="-23.0" y="9.9" font-size="3.8">-1</text><text x="-22.1" y="15.1" font-size="8.0">]</text></g></g>
<line x1="72.6" y1="50.3" x2="79.2" y2="50.3" stroke="#000" stroke-width="0.8"/>
<rect x="216.0" y="40.9" width="3.3" height="3.3" fill="#000"/>
<clipPath id="hc11"><rect x="208.60" y="53.90" width="17.90" height="12.70"/></clipPath><g clip-path="url(#hc11)" stroke="#ff0000" stroke-width="0.65" stroke-opacity="0.9"><line x1="207.60" y1="52.69" x2="227.50" y2="41.15"/><line x1="207.60" y1="56.39" x2="227.50" y2="44.85"/><line x1="207.60" y1="60.09" x2="227.50" y2="48.55"/><line x1="207.60" y1="63.79" x2="227.50" y2="52.25"/><line x1="207.60" y1="67.49" x2="227.50" y2="55.95"/><line x1="207.60" y1="71.19" x2="227.50" y2="59.65"/><line x1="207.60" y1="74.89" x2="227.50" y2="63.35"/><line x1="207.60" y1="78.59" x2="227.50" y2="67.05"/></g>
<line x1="208.6" y1="60.15" x2="226.5" y2="60.15" stroke="#ff0000" stroke-width="1.05"/>
</svg></div></body></html>
